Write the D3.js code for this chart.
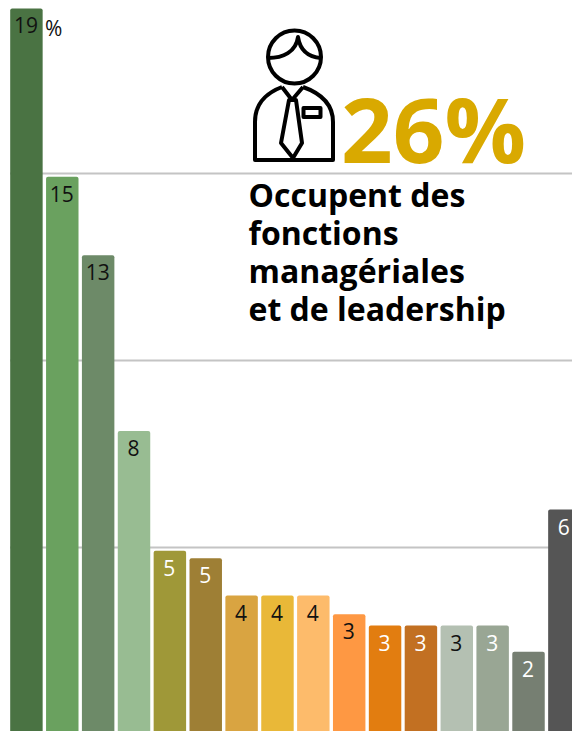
<!DOCTYPE html>
<html>
<head>
<meta charset="utf-8">
<script src="https://cdn.jsdelivr.net/npm/d3@7"></script>
<style>
    html, body { margin: 0; padding: 0; background: #fff; }
    svg { display: block; font-family: "Open Sans", sans-serif; }
</style>
</head>
<body>
<div id="ground"></div>
<script>
const categories = ["a", "b", "c", "d", "e", "f", "g", "h", "i", "j", "k", "l", "m", "n", "o", "p"];
const values = [19.4, 14.9, 12.8, 8.1, 4.9, 4.7, 3.7, 3.7, 3.7, 3.2, 2.9, 2.9, 2.9, 2.9, 2.2, 6.0];
const valueLabels = ["19", "15", "13", "8", "5", "5", "4", "4", "4", "3", "3", "3", "3", "3", "2", "6"];
const barColors = ["#4a7343", "#6aa15f", "#6d8a68", "#98bc92", "#9f9838", "#9e7f35", "#d9a441", "#e9b838",
    "#fdbb6b", "#fe9843", "#e27d10", "#c27022", "#b4c0b2", "#99a694", "#767f72", "#555555"];
const labelColors = ["#111", "#111", "#111", "#111", "#fff", "#fff", "#111", "#111",
    "#111", "#111", "#fff", "#fff", "#111", "#fff", "#fff", "#fff"];
const gridTicks = [5, 10, 15];
const titleLines = ["Occupent des", "fonctions", "managériales", "et de leadership"];

const width = 572, height = 731;

const svg = d3.select("#ground").append("svg")
    .attr("width", width)
    .attr("height", height);

const x = d3.scaleBand()
    .domain(categories)
    .range([8.4, 582.4])
    .paddingInner(0.095)
    .paddingOuter(0.05);

const y = d3.scaleLinear()
    .domain([0, 5])
    .range([734, 547]);

// grid lines only, the axis has no labels
const grid = svg.append("g")
    .attr("transform", "translate(10,0)")
    .call(d3.axisRight(y).tickValues(gridTicks).tickSize(width - 10).tickFormat(""));
grid.select(".domain").remove();
grid.selectAll("line").attr("stroke", "#c4c4c4").attr("stroke-width", 2);

svg.append("g").selectAll("rect")
    .data(values)
    .join("rect")
    .attr("x", (d, i) => x(categories[i]))
    .attr("y", d => y(d))
    .attr("width", x.bandwidth())
    .attr("height", d => y(0) - y(d))
    .attr("rx", 2)
    .attr("fill", (d, i) => barColors[i]);

svg.append("g").selectAll("text")
    .data(values)
    .join("text")
    .attr("x", (d, i) => x(categories[i]) + x.bandwidth() / 2 - 0.5)
    .attr("y", d => y(d) + 25)
    .attr("text-anchor", "middle")
    .attr("font-size", 21)
    .attr("fill", (d, i) => labelColors[i])
    .text((d, i) => valueLabels[i]);

svg.append("text")
    .attr("x", 45)
    .attr("y", 36)
    .attr("font-size", 21)
    .attr("fill", "#111")
    .text("%");

// person icon
const icon = svg.append("g")
    .attr("fill", "none")
    .attr("stroke", "#000")
    .attr("stroke-width", 4)
    .attr("stroke-linejoin", "round");
icon.append("circle").attr("cx", 294.5).attr("cy", 57).attr("r", 26.5);
icon.append("path").attr("d", "M268 58 C283 58 296 52 298 37 C300 50 308 57 321 58");
icon.append("path").attr("d", "M282 87 C266 93 255 103 255 122 V160 H333 V122 C333 103 320 93 303 87");
icon.append("path").attr("d", "M282 87 L292 100 L303 87");
icon.append("path").attr("d", "M289 100 H296 L302 143 L293 158 L281 143 Z");
icon.append("rect").attr("x", 303.5).attr("y", 108).attr("width", 17).attr("height", 9);

svg.append("text")
    .attr("x", 341)
    .attr("y", 163)
    .attr("font-size", 90.5)
    .attr("font-weight", 700)
    .attr("fill", "#d9a900")
    .text("26%");

svg.append("g").selectAll("text")
    .data(titleLines)
    .join("text")
    .attr("x", 248.5)
    .attr("y", (d, i) => 207 + i * 38)
    .attr("font-size", 32)
    .attr("font-weight", 700)
    .attr("fill", "#000")
    .text(d => d);
</script>
</body>
</html>
